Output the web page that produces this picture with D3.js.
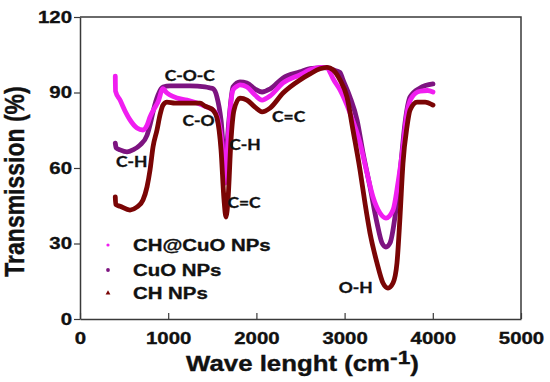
<!DOCTYPE html>
<html>
<head>
<meta charset="utf-8">
<script src="https://cdn.jsdelivr.net/npm/d3@7"></script>
<style>
  html, body { margin: 0; padding: 0; background: #ffffff; }
  svg { display: block; }
  text { font-family: "Liberation Sans", Arial, sans-serif; font-weight: bold; fill: #111; stroke: #111; stroke-width: 0.35px; }
  .ann { font-family: Lato, "Open Sans", sans-serif; font-weight: bold; }
</style>
</head>
<body>
<svg id="chart" width="550" height="382"></svg>
<script>
// ---- Data ----
const seriesNames = ["CH@CuO NPs", "CuO NPs", "CH NPs"];

const chcuoWave = [400, 403, 454, 520, 567, 646, 714, 760, 794, 840, 884, 941, 980, 1020, 1100, 1213, 1327, 1440, 1508, 1545, 1575, 1610, 1644, 1678, 1705, 1735, 1780, 1814, 1893, 1984, 2064, 2154, 2302, 2494, 2608, 2721, 2800, 2835, 2869, 2948, 3061, 3175, 3254, 3322, 3401, 3469, 3549, 3605, 3662, 3707, 3764, 3855, 3940, 4002];
const chcuoT    = [96.5, 90.5, 87.0, 82.0, 79.1, 75.9, 75.1, 77.0, 80.3, 83.5, 86.2, 91.5, 90.0, 89.0, 87.8, 87.0, 85.8, 84.2, 83.0, 81.5, 78.0, 70.0, 54.0, 71.0, 84.0, 91.0, 92.5, 93.0, 92.2, 89.0, 87.0, 88.6, 93.8, 97.0, 99.0, 100.0, 100.0, 98.0, 95.5, 91.0, 81.9, 69.9, 58.0, 48.5, 42.1, 40.1, 43.3, 54.0, 68.4, 81.9, 88.2, 90.5, 90.8, 90.2];

const cuoWave = [400, 410, 454, 533, 601, 680, 760, 800, 828, 860, 884, 941, 1020, 1247, 1417, 1474, 1508, 1553, 1599, 1644, 1689, 1735, 1814, 1893, 1984, 2064, 2154, 2302, 2494, 2608, 2721, 2800, 2869, 2948, 2982, 3061, 3141, 3209, 3288, 3367, 3424, 3469, 3515, 3571, 3628, 3685, 3742, 3855, 4002];
const cuoT    = [69.9, 68.0, 67.2, 66.4, 67.2, 69.1, 73.0, 78.0, 82.3, 86.5, 89.0, 92.2, 92.6, 92.6, 92.2, 91.8, 91.5, 88.2, 79.1, 62.0, 79.1, 92.2, 94.2, 93.8, 91.4, 90.2, 91.4, 95.8, 98.2, 99.5, 99.8, 99.8, 99.0, 98.0, 95.0, 88.2, 79.1, 66.0, 52.5, 38.2, 30.2, 28.6, 30.2, 40.5, 58.0, 77.9, 88.2, 91.8, 93.4];

const chWave = [400, 405, 454, 567, 646, 714, 760, 794, 828, 873, 907, 941, 986, 1077, 1247, 1361, 1417, 1474, 1508, 1553, 1599, 1633, 1655, 1678, 1712, 1746, 1814, 1893, 1984, 2064, 2154, 2302, 2494, 2608, 2721, 2800, 2869, 2948, 3027, 3095, 3175, 3231, 3288, 3367, 3435, 3492, 3549, 3594, 3628, 3662, 3707, 3742, 3821, 3912, 4002];
const chT    = [48.5, 45.5, 44.8, 43.3, 44.5, 47.3, 52.5, 59.2, 68.4, 75.1, 81.1, 85.0, 86.2, 85.8, 85.8, 85.8, 84.6, 83.8, 83.0, 79.9, 67.2, 47.3, 40.5, 47.3, 71.1, 83.0, 87.8, 87.0, 84.2, 82.3, 83.8, 89.8, 95.0, 97.4, 99.4, 100.0, 99.0, 95.0, 88.2, 75.1, 59.2, 46.1, 34.2, 22.3, 14.3, 12.3, 14.3, 22.3, 40.5, 62.0, 76.3, 83.0, 86.2, 86.2, 85.0];

const xTicks = [0, 1000, 2000, 3000, 4000, 5000];
const yTicks = [0, 30, 60, 90, 120];

const annLabels = ["C-O-C", "C-O", "C-H", "C-H", "C=C", "C=C", "O-H"];
const annWave   = [1245, 1345, 585, 1870, 1860, 2365, 3125];
const annT      = [94.5, 76.5, 60.2, 67.0, 44.3, 78.3, 10.5];

// ---- Layout ----
const W = 550, H = 382;
const m = { left: 80, right: 29, top: 17, bottom: 63 };
const SX = 1.2; // horizontal stretch of all text in the reference

const svg = d3.select("#chart");
const x = d3.scaleLinear().domain([0, 5000]).range([m.left, W - m.right]);
const y = d3.scaleLinear().domain([0, 120]).range([H - m.bottom, m.top]);

const axisColor = "#3a3a3a";

// plot frame (top & right)
svg.append("path")
  .attr("d", `M${x(0)},${y(120)}H${x(5000)}V${y(0)}`)
  .attr("fill", "none").attr("stroke", axisColor).attr("stroke-width", 1.5);

// x axis (ticks inward)
const gx = svg.append("g").attr("transform", `translate(0,${y(0)})`)
  .call(d3.axisBottom(x).tickValues(xTicks).tickSizeInner(-6).tickSizeOuter(0).tickPadding(13).tickFormat(d3.format("d")));
gx.select(".domain").attr("stroke", axisColor).attr("stroke-width", 1.5);
gx.selectAll(".tick line").attr("stroke", axisColor).attr("stroke-width", 1.2);
gx.selectAll(".tick text").attr("fill", "#111").attr("font-size", 17)
  .attr("font-family", '"Liberation Sans", Arial, sans-serif').attr("font-weight", "bold")
  .attr("transform", `scale(${SX},1)`);

// y axis (ticks outward)
const gy = svg.append("g").attr("transform", `translate(${x(0)},0)`)
  .call(d3.axisLeft(y).tickValues(yTicks).tickSizeInner(6).tickSizeOuter(0).tickPadding(2).tickFormat(d3.format("d")));
gy.select(".domain").attr("stroke", axisColor).attr("stroke-width", 1.5);
gy.selectAll(".tick line").attr("stroke", axisColor).attr("stroke-width", 1.2);
gy.selectAll(".tick text").attr("fill", "#111").attr("font-size", 17)
  .attr("font-family", '"Liberation Sans", Arial, sans-serif').attr("font-weight", "bold")
  .attr("x", -8 / SX).attr("transform", `scale(${SX},1)`);

// axis titles
svg.append("text")
  .attr("transform", `translate(${(x(0) + x(5000)) / 2 + 2},371) scale(${SX},1)`)
  .attr("text-anchor", "middle").attr("font-size", 21.5)
  .call(t => {
    t.append("tspan").text("Wave lenght (cm");
    t.append("tspan").attr("dy", -7).attr("font-size", 19).text("-1");
    t.append("tspan").attr("dy", 7).text(")");
  });

svg.append("text")
  .attr("transform", `translate(24,${(85 + 278) / 2}) scale(${SX},1) rotate(-90)`)
  .attr("text-anchor", "middle").attr("font-size", 23)
  .text("Transmission (%)");

// ---- Lines ----
const series = [
  { name: seriesNames[1], wave: cuoWave, t: cuoT, color: "#7d1480" },
  { name: seriesNames[0], wave: chcuoWave, t: chcuoT, color: "#f01ef0" },
  { name: seriesNames[2], wave: chWave, t: chT, color: "#7a0505" }
];
const line = d3.line().x(d => x(d[0])).y(d => y(d[1])).curve(d3.curveMonotoneX);
series.forEach(s => {
  svg.append("path")
    .datum(s.wave.map((w, i) => [w, s.t[i]]))
    .attr("d", line)
    .attr("fill", "none")
    .attr("stroke", s.color)
    .attr("stroke-width", 4.8)
    .attr("stroke-linejoin", "round")
    .attr("stroke-linecap", "round");
});

// ---- Annotations ----
annLabels.forEach((lab, i) => {
  svg.append("text").attr("class", "ann")
    .attr("transform", `translate(${x(annWave[i])},${y(annT[i])}) scale(${SX},1)`)
    .attr("text-anchor", "middle").attr("font-size", 14.5)
    .text(lab);
});

// ---- Legend ----
const legendColors = ["#f01ef0", "#7d1480", "#7a0505"];
const legY = [245, 270, 293];
seriesNames.forEach((n, i) => {
  const g = svg.append("g").attr("transform", `translate(108,${legY[i]})`);
  if (i < 2) {
    g.append("circle").attr("r", i === 0 ? 1.6 : 1.9).attr("fill", legendColors[i]);
  } else {
    g.append("path").attr("d", d3.symbol(d3.symbolTriangle, 10)).attr("fill", legendColors[i]);
  }
  svg.append("text")
    .attr("transform", `translate(133,${legY[i] + 6}) scale(${SX},1)`)
    .attr("font-size", 17).text(n);
});
</script>
</body>
</html>
